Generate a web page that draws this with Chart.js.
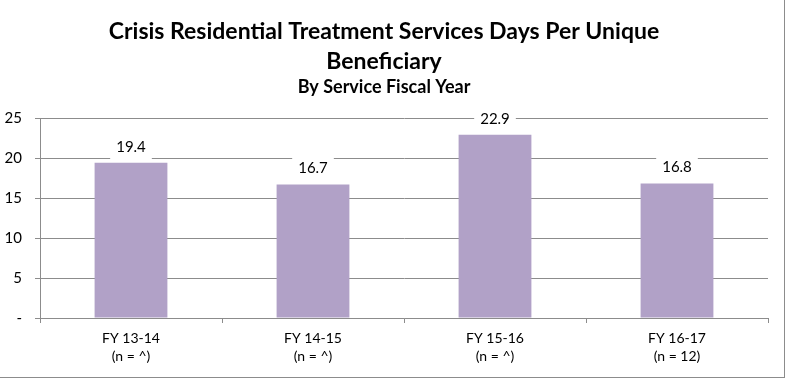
<!DOCTYPE html>
<html>
<head>
<meta charset="utf-8">
<script src="https://cdn.jsdelivr.net/npm/chart.js@4.4.1/dist/chart.umd.min.js"></script>
<style>
  html, body { margin: 0; padding: 0; background: #fff; }
  #wrap {
    width: 784px;
    height: 377px;
    border-right: 1px solid #8c8c8c;
    border-bottom: 1px solid #8c8c8c;
    position: relative;
  }
</style>
</head>
<body>
<div id="wrap"><canvas id="crts"></canvas></div>
<script>
// Days per unique beneficiary, by service fiscal year
const fiscalYears = ["FY 13-14", "FY 14-15", "FY 15-16", "FY 16-17"];
const sampleSizes = ["(n = ^)", "(n = ^)", "(n = ^)", "(n = 12)"];
const daysPerBeneficiary = [19.4, 16.7, 22.9, 16.8];
const yTicks = [0, 5, 10, 15, 20, 25];

const FONT = "Lato, 'Open Sans', 'Liberation Sans', sans-serif";

// value labels with a white box behind them (hides the gridline)
const barValueLabels = {
  id: "barValueLabels",
  afterDatasetsDraw(chart) {
    const ctx = chart.ctx;
    const meta = chart.getDatasetMeta(0);
    ctx.save();
    ctx.font = "15px " + FONT;
    ctx.textAlign = "center";
    ctx.textBaseline = "middle";
    meta.data.forEach((bar, i) => {
      const txt = daysPerBeneficiary[i].toFixed(1);
      const w = ctx.measureText(txt).width + 12;
      const h = 26;
      const cy = bar.y - 3 - h / 2;
      ctx.fillStyle = "#fff";
      ctx.fillRect(bar.x - w / 2, cy - h / 2, w, h);
      ctx.fillStyle = "#000";
      ctx.fillText(txt, bar.x, cy);
    });
    ctx.restore();
  },
};

new Chart(document.getElementById("crts").getContext("2d"), {
  type: "bar",
  data: {
    labels: fiscalYears.map((fy, i) => [fy, sampleSizes[i]]),
    datasets: [
      {
        data: daysPerBeneficiary,
        backgroundColor: "#b1a1c7",
        categoryPercentage: 0.8,
        barPercentage: 0.5,
      },
    ],
  },
  options: {
    responsive: true,
    maintainAspectRatio: false,
    animation: false,
    layout: { padding: { left: 0, right: 16, top: 0, bottom: 0 } },
    plugins: {
      legend: { display: false },
      tooltip: { enabled: false },
      title: {
        display: true,
        text: ["Crisis Residential Treatment Services Days Per Unique", "Beneficiary"],
        color: "#000",
        font: { family: FONT, size: 23, weight: "bold", lineHeight: 1.3 },
        padding: { top: 17, bottom: 1 },
      },
      subtitle: {
        display: true,
        text: "By Service Fiscal Year",
        color: "#000",
        font: { family: FONT, size: 18, weight: "bold", lineHeight: 1.0 },
        padding: { top: 0, bottom: 22.2 },
      },
    },
    scales: {
      x: {
        grid: {
          drawOnChartArea: false,
          drawTicks: true,
          tickLength: 5,
          color: "#8c8c8c",
        },
        border: { color: "#8c8c8c" },
        ticks: {
          color: "#000",
          font: { family: FONT, size: 14, lineHeight: 1.3 },
          padding: 6,
          maxRotation: 0,
        },
        afterFit(scale) { scale.height = 59; },
      },
      y: {
        min: 0,
        max: 25,
        afterBuildTicks(scale) {
          scale.ticks = yTicks.map((v) => ({ value: v }));
        },
        grid: { color: "#8c8c8c", tickLength: 5 },
        border: { color: "#8c8c8c" },
        ticks: {
          color: "#000",
          font: { family: FONT, size: 15 },
          padding: 13,
          callback: (v) => (v === 0 ? "-" : v),
        },
        afterFit(scale) { scale.width = 40; },
      },
    },
  },
  plugins: [barValueLabels],
});
</script>
</body>
</html>
